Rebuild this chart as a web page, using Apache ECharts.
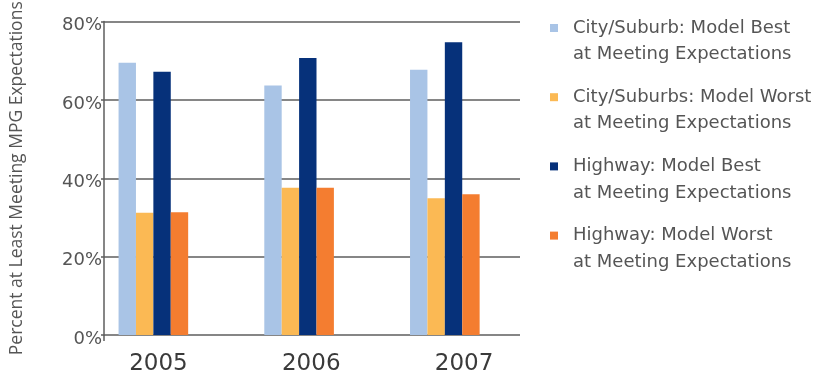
<!DOCTYPE html>
<html>
<head>
<meta charset="utf-8">
<script src="https://cdn.jsdelivr.net/npm/echarts@6/dist/echarts.min.js"></script>
<style>
  html, body { margin: 0; padding: 0; background: #fff; }
  #chart { width: 817px; height: 379px; }
</style>
</head>
<body>
<div id="chart"></div>
<script>
// Share of owners whose vehicle at least met MPG expectations, by year
const years = ['2005', '2006', '2007'];
const seriesNames = [
  'City/Suburb: Model Best\nat Meeting Expectations',
  'City/Suburbs: Model Worst\nat Meeting Expectations',
  'Highway: Model Best\nat Meeting Expectations',
  'Highway: Model Worst\nat Meeting Expectations'
];
const cityBest = [69.5, 63.7, 67.7];
const cityWorst = [31.2, 37.6, 34.9];
const highwayBest = [67.2, 70.7, 74.7];
const highwayWorst = [31.3, 37.6, 35.9];
const yTicks = [0, 20, 40, 60, 80];

const colors = ['#a9c4e6', '#fbb954', '#06317a', '#f47d30'];
const font = 'DejaVu Sans';
const lineColor = '#5e5e5e';

const chart = echarts.init(document.getElementById('chart'), null, { renderer: 'canvas' });

const values = [cityBest, cityWorst, highwayBest, highwayWorst];

chart.setOption({
  animation: false,
  color: colors,
  textStyle: { fontFamily: font },
  grid: [
    // frame: value axis, grid lines
    { left: 104, right: 297, top: 21.5, bottom: 44, outerBoundsMode: 'none' },
    // bars
    { left: 80.5, right: 299.3, top: 21.5, bottom: 44, outerBoundsMode: 'none' },
    // year labels
    { left: 82.1, right: 276.6, top: 21.5, bottom: 44, outerBoundsMode: 'none' }
  ],
  xAxis: [
    {
      gridIndex: 0, type: 'value', min: 0, max: 1, interval: 1,
      axisLine: { show: false },
      axisTick: { show: true, customValues: [0], length: 6, lineStyle: { color: lineColor, width: 1.5 } },
      axisLabel: { show: false },
      splitLine: { show: false }
    },
    {
      gridIndex: 1, type: 'category', data: years,
      axisLine: { show: false }, axisTick: { show: false }, axisLabel: { show: false }
    },
    {
      gridIndex: 2, type: 'category', data: years,
      axisLine: { show: false }, axisTick: { show: false },
      axisLabel: { color: '#3a3a3a', fontSize: 23, margin: 18, fontFamily: font }
    }
  ],
  yAxis: [
    {
      gridIndex: 0, type: 'value', min: yTicks[0], max: yTicks[yTicks.length - 1], interval: 20,
      name: 'Percent at Least Meeting MPG Expectations',
      nameLocation: 'middle', nameGap: 78,
      nameTextStyle: { color: '#555', fontSize: 17.5, fontFamily: 'Open Sans' },
      axisLine: { show: true, lineStyle: { color: lineColor, width: 1.5 } },
      axisTick: { show: true, length: 3, lineStyle: { color: lineColor, width: 1.5 } },
      axisLabel: {
        color: '#555', fontSize: 18, margin: 2, fontFamily: font,
        verticalAlign: 'top', lineHeight: 8,
        formatter: v => v + '%'
      },
      splitLine: { show: true, lineStyle: { color: lineColor, width: 1.5 } }
    },
    {
      gridIndex: 1, type: 'value', min: yTicks[0], max: yTicks[yTicks.length - 1], interval: 20,
      axisLine: { show: false }, axisTick: { show: false }, axisLabel: { show: false },
      splitLine: { show: false }
    },
    {
      gridIndex: 2, type: 'value', min: 0, max: 80, interval: 20, show: false
    }
  ],
  legend: {
    orient: 'vertical',
    left: 545, top: -16.75,
    icon: 'rect', itemWidth: 8, itemHeight: 8,
    itemGap: -10.3,
    selectedMode: false,
    // leading blank line keeps the marker level with the first text line
    formatter: name => '\n' + name,
    textStyle: {
      color: '#555', fontSize: 18, lineHeight: 26.5, fontFamily: font,
      padding: [0, 0, 0, 10]
    },
    data: seriesNames
  },
  series: seriesNames.map((name, i) => ({
    name: name,
    type: 'bar',
    xAxisIndex: 1, yAxisIndex: 1,
    barWidth: 17.4,
    barGap: '0%',
    data: values[i]
  }))
});
</script>
</body>
</html>
